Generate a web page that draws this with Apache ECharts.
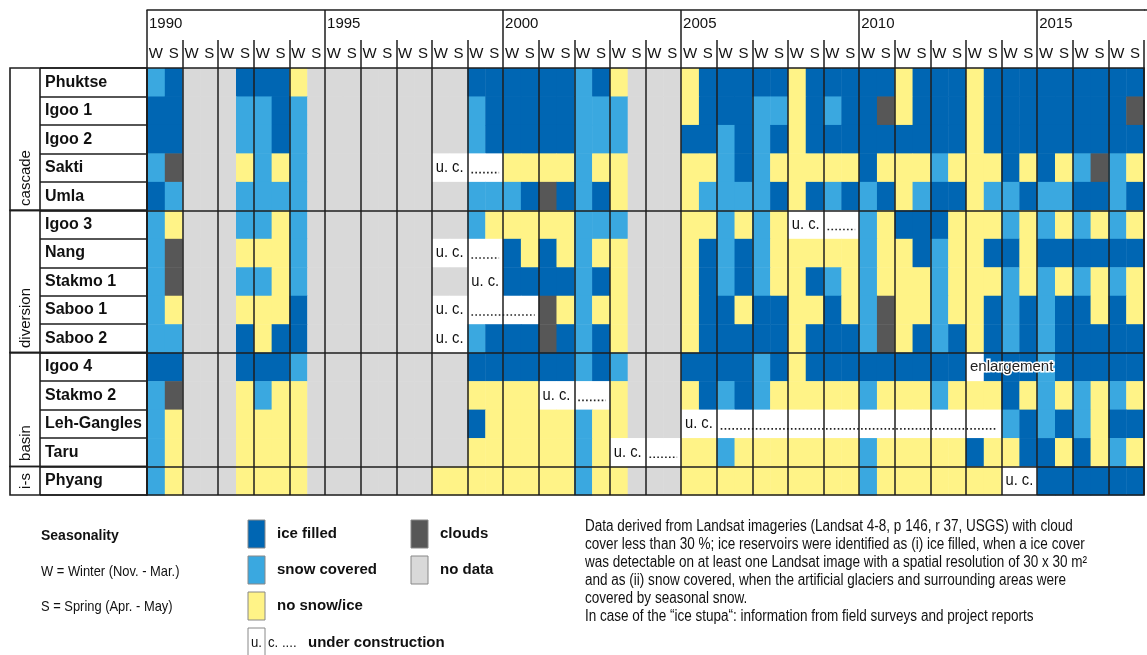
<!DOCTYPE html>
<html>
<head>
<meta charset="utf-8">
<script src="https://cdn.jsdelivr.net/npm/echarts@6/dist/echarts.min.js"></script>
<style>
html,body{margin:0;padding:0;background:#fff;}
#chart{width:1147px;height:655px;}
</style>
</head>
<body>
<div id="chart"></div>
<script>
// ---------------- DATA ----------------
const stations = ['Phuktse','Igoo 1','Igoo 2','Sakti','Umla','Igoo 3','Nang','Stakmo 1','Saboo 1','Saboo 2','Igoo 4','Stakmo 2','Leh-Gangles','Taru','Phyang'];
const years = [1990,1991,1992,1993,1994,1995,1996,1997,1998,1999,2000,2001,2002,2003,2004,2005,2006,2007,2008,2009,2010,2011,2012,2013,2014,2015,2016,2017];
const yearTicks = ['1990','1991','1992','1993','1994','1995','1996','1997','1998','1999','2000','2001','2002','2003','2004','2005','2006','2007','2008','2009','2010','2011','2012','2013','2014','2015','2016','2017','2018'];
const seasons = ['W','S'];
// codes: I = ice filled, S = snow covered, N = no snow/ice, C = clouds, D = no data, U = under construction
// one string per station, one character per season column (1990 W, 1990 S, 1991 W, ...)
const statusRows = [
  'SIDDDIIIND'+'DDDDDDDDII'+'IIIISINDDD'+'NIIIIINIII'+'IINIIINIII'+'IIIIII', // Phuktse
  'IIDDDSSISD'+'DDDDDDDDSI'+'IIIISSSDDD'+'NIIISSNISI'+'ICNIIINIII'+'IIIIIC', // Igoo 1
  'IIDDDSSISD'+'DDDDDDDDSI'+'IIIISSSDDD'+'IISISINIII'+'IIIIIINIII'+'IIIIII', // Igoo 2
  'SCDDDNSNSD'+'DDDDDDUUUU'+'NNNNSNNDDD'+'NNSISNNNNN'+'INNNSNNNIN'+'INSCSN', // Sakti
  'ISDDDSSSSD'+'DDDDDDDDSS'+'SICISINDDD'+'NSSSSINISI'+'SINSIINSSI'+'SSIISI', // Umla
  'SNDDDSSNSD'+'DDDDDDDDSN'+'NNNNSSSDDD'+'NNSNSNUUUU'+'SNIIINNNSN'+'SNSNSN', // Igoo 3
  'SCDDDNNNSD'+'DDDDDDUUUU'+'ININSNNDDD'+'NISISNNNNN'+'SNNISNNIIN'+'IIIIII', // Nang
  'SCDDDSSNSD'+'DDDDDDDDUU'+'IIIISINDDD'+'NISISNNISN'+'SNNNSNNNSN'+'SNSNSN', // Stakmo 1
  'SNDDDNNNID'+'DDDDDDUUUU'+'UUCNSNNDDD'+'NIINIINNIN'+'SCNNSNNISI'+'SIININ', // Saboo 1
  'SSDDDINIID'+'DDDDDDUUSI'+'IICISINDDD'+'NIIIIINIII'+'SCNISINISI'+'SIIIII', // Saboo 2
  'IIDDDIIISD'+'DDDDDDDDII'+'IIIISISDDD'+'IIIISINIII'+'IIIIIIUIII'+'SIIIII', // Igoo 4
  'SCDDDNSNND'+'DDDDDDDDNN'+'NNUUUUNDDD'+'NISISNNNNN'+'SNNNSNNNIN'+'SNSNSN', // Stakmo 2
  'SNDDDNNNND'+'DDDDDDDDIN'+'NNNNSNNDDD'+'UUUUUUUUUU'+'UUUUUUUUSI'+'SISNII', // Leh-Gangles
  'SNDDDNNNND'+'DDDDDDDDNN'+'NNNNSNUUUU'+'NNSNNNNNNN'+'SNNNNNINNI'+'ININSN', // Taru
  'SNDDDNNNND'+'DDDDDDNNNN'+'NNNNSNNDDD'+'NNNNNNNNNN'+'SNNNNNNNUU'+'IIIIII'  // Phyang
];
// "u. c." labels: [row, first column]
const ucLabels = [[3,16],[5,36],[6,16],[7,18],[8,16],[9,16],[11,22],[12,30],[13,26],[14,48]];
// dotted continuation: [first column, end column, row]
const ucDots = [[18,20,3],[38,40,5],[18,20,6],[18,22,8],[24,26,11],[32,48,12],[28,30,13]];
// note label: [column, row, text]
const noteLabels = [[46,10,'enlargement']];
const groups = [['cascade',0,5],['diversion',5,10],['basin',10,14],['i-s',14,15]];
const groupLines = [5,10,14];

// ---------------- STYLE ----------------
const codes = 'ISNCDU';
const palette = ['#0066b3','#3aa8e0','#fff387','#575757','#d9d9d9','#ffffff'];
const SANS = "'Liberation Sans',Arial,sans-serif";
const LINE = '#1e1e1e';
const G = {left:147, top:68, width:997, height:427};
const rowH = G.height / stations.length;

const wsLabels = [];
years.forEach(y => seasons.forEach(s => wsLabels.push(s)));

const cells = [];
statusRows.forEach((str, r) => {
  for (let c = 0; c < str.length; c++) cells.push([c, r, codes.indexOf(str[c])]);
});

// ---------------- GRAPHIC (frames, legend, notes) ----------------
const graphic = [];
const groupLabelY = {cascade:178, diversion:318, basin:443, 'i-s':481};
groups.forEach(g => {
  const y0 = G.top + g[1]*rowH, y1 = G.top + g[2]*rowH;
  graphic.push({type:'rect', z:20, shape:{x:10, y:y0, width:G.left-10, height:y1-y0}, style:{fill:'none', stroke:LINE, lineWidth:1.6}});
  graphic.push({type:'text', z:21, x:26, y:groupLabelY[g[0]], rotation:Math.PI/2,
    style:{text:g[0], font:"15px "+SANS, fill:'#111', align:'center', verticalAlign:'middle'}});
});
graphic.push({type:'line', z:20, shape:{x1:40, y1:G.top, x2:40, y2:G.top+G.height}, style:{stroke:LINE, lineWidth:1.6}});
graphic.push({type:'rect', z:20, shape:{x:G.left, y:G.top, width:G.width, height:G.height}, style:{fill:'none', stroke:LINE, lineWidth:1.6}});
graphic.push({type:'line', z:20, shape:{x1:G.left+G.width, y1:10, x2:1147, y2:10}, style:{stroke:LINE, lineWidth:1.5}});

// legend
const leg = (x, y, color, label) => {
  graphic.push({type:'rect', z:20, shape:{x:x, y:y, width:17, height:28}, style:{fill:color, stroke:'#888', lineWidth:1}});
  graphic.push({type:'text', z:20, x:x+29, y:y+14, style:{text:label, font:"bold 15px "+SANS, fill:'#111', verticalAlign:'middle'}});
};
leg(248, 520, palette[0], 'ice filled');
leg(248, 556, palette[1], 'snow covered');
leg(248, 592, palette[2], 'no snow/ice');
leg(411, 520, palette[3], 'clouds');
leg(411, 556, palette[4], 'no data');
graphic.push({type:'rect', z:20, shape:{x:248, y:628, width:17, height:28}, style:{fill:'#fff', stroke:'#888', lineWidth:1}});
graphic.push({type:'text', z:20, x:251, y:643, scaleX:0.88, style:{text:'u.', font:"15px "+SANS, fill:'#111', verticalAlign:'middle'}});
graphic.push({type:'text', z:20, x:268, y:643, scaleX:0.88, style:{text:'c. ....', font:"15px "+SANS, fill:'#111', verticalAlign:'middle'}});
graphic.push({type:'text', z:20, x:308, y:643, style:{text:'under construction', font:"bold 15px "+SANS, fill:'#111', verticalAlign:'middle'}});
graphic.push({type:'text', z:20, x:41, y:536, style:{text:'Seasonality', font:"bold 14px "+SANS, fill:'#111', verticalAlign:'middle'}});
graphic.push({type:'text', z:20, x:41, y:572, scaleX:0.86, style:{text:'W = Winter (Nov. - Mar.)', font:"15px "+SANS, fill:'#111', verticalAlign:'middle'}});
graphic.push({type:'text', z:20, x:41, y:607, scaleX:0.86, style:{text:'S = Spring (Apr. - May)', font:"15px "+SANS, fill:'#111', verticalAlign:'middle'}});
graphic.push({type:'text', z:20, x:585, y:518, scaleX:0.845, style:{
  text:'Data derived from Landsat imageries (Landsat 4-8, p 146, r 37, USGS) with cloud\n' +
       'cover less than 30 %; ice reservoirs were identified as (i) ice filled, when a ice cover\n' +
       'was detectable on at least one Landsat image with a spatial resolution of 30 x 30 m\u00b2\n' +
       'and as (ii) snow covered, when the artificial glaciers and surrounding areas were\n' +
       'covered by seasonal snow.\n' +
       'In case of the \u201cice stupa\u201c: information from field surveys and project reports',
  font:"16px "+SANS, lineHeight:18, fill:'#111', verticalAlign:'top'}});

// ---------------- CHART ----------------
const chart = echarts.init(document.getElementById('chart'), null, {renderer:'canvas'});
chart.setOption({
  animation:false,
  backgroundColor:'#fff',
  grid:{left:G.left, top:G.top, width:G.width, height:G.height, containLabel:false},
  xAxis:[
    {type:'value', min:0, max:56, interval:2, position:'bottom', z:10,
     axisLine:{show:false}, axisTick:{show:false}, axisLabel:{show:false},
     splitLine:{show:true, lineStyle:{color:LINE, width:1.5}}},
    {type:'category', data:wsLabels, position:'top', offset:0,
     axisLine:{show:false},
     axisTick:{show:true, length:28, interval:(i)=> i%2===0, lineStyle:{color:LINE, width:1.5}},
     axisLabel:{interval:0, margin:7, color:'#111', fontSize:15, fontFamily:SANS},
     splitLine:{show:false}},
    {type:'category', data:yearTicks, boundaryGap:false, position:'top', offset:58,
     axisLine:{show:true, lineStyle:{color:LINE, width:1.5}},
     axisTick:{show:true, inside:true, length:58, interval:(i)=> i%5===0, lineStyle:{color:LINE, width:1.5}},
     axisLabel:{inside:true, interval:(i)=> i%5===0, align:'left', margin:6, padding:[0,0,0,2], color:'#111', fontSize:15, fontFamily:SANS},
     splitLine:{show:false}}
  ],
  yAxis:[
    {type:'value', min:0, max:15, inverse:true, show:false},
    {type:'category', data:stations, inverse:true, position:'left',
     axisLine:{show:false},
     axisTick:{show:true, length:107, lineStyle:{color:LINE, width:1.6}},
     axisLabel:{align:'left', margin:102, color:'#111', fontSize:16, fontWeight:'bold', fontFamily:SANS},
     splitLine:{show:false}}
  ],
  graphic:graphic,
  series:[
    {type:'custom', name:'status', xAxisIndex:0, yAxisIndex:0, encode:{x:0, y:1}, data:cells,
     renderItem:(params, api) => {
       const c = api.value(0), r = api.value(1), k = api.value(2);
       const p0 = api.coord([c, r]), p1 = api.coord([c+1, r+1]);
       return {type:'rect', shape:{x:p0[0], y:Math.min(p0[1],p1[1]), width:p1[0]-p0[0]+0.5, height:Math.abs(p1[1]-p0[1])+0.5},
               style:{fill:palette[k]}};
     },
     markLine:{silent:true, symbol:'none', label:{show:false}, lineStyle:{color:LINE, width:1.6, type:'solid'},
       data:groupLines.map(v => ({yAxis:v}))}
    },
    {type:'custom', name:'uc', xAxisIndex:0, yAxisIndex:0, z:5, encode:{x:1, y:0},
     data:ucLabels,
     renderItem:(params, api) => {
       const r = api.value(0), c = api.value(1);
       const p = api.coord([c+1, r+0.5]);
       return {type:'text', x:p[0], y:p[1], scaleX:0.92, style:{text:'u. c.', font:"16px "+SANS, fill:'#111', align:'center', verticalAlign:'middle'}};
     }},
    {type:'custom', name:'dots', xAxisIndex:0, yAxisIndex:0, z:5, encode:{x:[0,1], y:2},
     data:ucDots,
     renderItem:(params, api) => {
       const a = api.coord([api.value(0), api.value(2)+0.5]);
       const b = api.coord([api.value(1), api.value(2)+0.5]);
       return {type:'line', shape:{x1:a[0]+4, y1:a[1]+5, x2:b[0]-4, y2:b[1]+5},
               style:{stroke:'#222', lineWidth:1.6, lineDash:[1.6,2.3]}};
     }},
    {type:'custom', name:'notes', xAxisIndex:0, yAxisIndex:0, z:15, encode:{x:0, y:1},
     data:noteLabels,
     renderItem:(params, api) => {
       const d = noteLabels[params.dataIndex];
       const p = api.coord([d[0], d[1]+0.5]);
       return {type:'text', x:p[0]+4, y:p[1], style:{text:d[2], font:"15px "+SANS, fill:'#222', align:'left', verticalAlign:'middle', stroke:'#fff', lineWidth:3}};
     }}
  ]
});
</script>
</body>
</html>
